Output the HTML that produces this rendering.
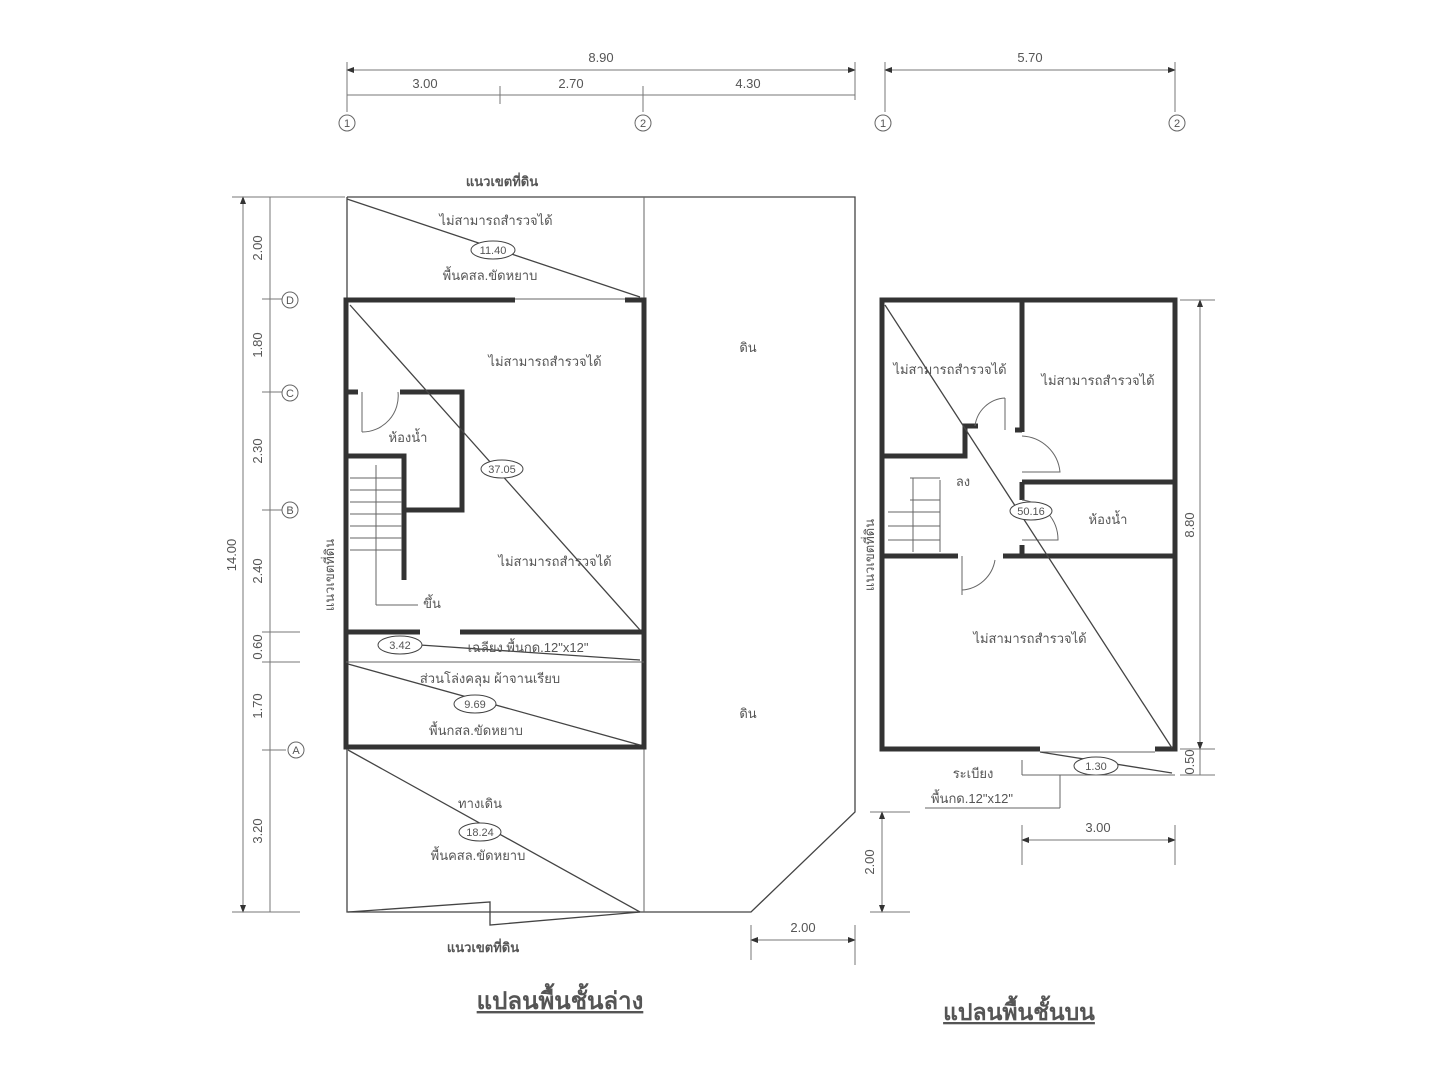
<!DOCTYPE html>
<html><head><meta charset="utf-8"><style>
html,body{margin:0;padding:0;background:#fff;width:1440px;height:1080px;overflow:hidden}
svg{display:block}
text{font-family:"Liberation Sans","Noto Sans CJK SC",sans-serif;fill:#555;font-size:13px}
.w{stroke:#333;stroke-width:5;fill:none}
.t{stroke:#666;stroke-width:1;fill:none}
.d{stroke:#444;stroke-width:1.3;fill:none}
.dim{stroke:#777;stroke-width:1;fill:none}
</style></head><body>
<svg width="1440" height="1080" viewBox="0 0 1440 1080" xmlns="http://www.w3.org/2000/svg">
<defs><marker id="a" markerWidth="8" markerHeight="6" refX="7" refY="3" orient="auto-start-reverse"><path d="M0,0 L8,3 L0,6z" fill="#333"/></marker></defs>

<line class="dim" x1="347" y1="70" x2="855" y2="70" marker-start="url(#a)" marker-end="url(#a)"/>
<text x="601" y="62" text-anchor="middle">8.90</text>
<line class="dim" x1="347" y1="95" x2="855" y2="95"/>
<g class="dim"><line x1="347" y1="62" x2="347" y2="112"/><line x1="500" y1="86" x2="500" y2="104"/><line x1="643" y1="86" x2="643" y2="112"/><line x1="855" y1="62" x2="855" y2="100"/></g>
<text x="425" y="88" text-anchor="middle">3.00</text>
<text x="571" y="88" text-anchor="middle">2.70</text>
<text x="748" y="88" text-anchor="middle">4.30</text>
<circle cx="347" cy="123" r="8" class="t"/><text x="347" y="127" text-anchor="middle" style="font-size:11px">1</text>
<circle cx="643" cy="123" r="8" class="t"/><text x="643" y="127" text-anchor="middle" style="font-size:11px">2</text>
<line class="dim" x1="885" y1="70" x2="1175" y2="70" marker-start="url(#a)" marker-end="url(#a)"/>
<line class="dim" x1="885" y1="62" x2="885" y2="112"/><line class="dim" x1="1175" y1="62" x2="1175" y2="112"/>
<text x="1030" y="62" text-anchor="middle">5.70</text>
<circle cx="883" cy="123" r="8" class="t"/><text x="883" y="127" text-anchor="middle" style="font-size:11px">1</text>
<circle cx="1177" cy="123" r="8" class="t"/><text x="1177" y="127" text-anchor="middle" style="font-size:11px">2</text>

<line class="dim" x1="243" y1="197" x2="243" y2="912" marker-start="url(#a)" marker-end="url(#a)"/>
<line class="dim" x1="270" y1="197" x2="270" y2="912"/>
<g class="dim">
<line x1="232" y1="197" x2="345" y2="197"/><line x1="262" y1="299" x2="282" y2="299"/><line x1="262" y1="392" x2="282" y2="392"/><line x1="262" y1="510" x2="282" y2="510"/><line x1="262" y1="632" x2="300" y2="632"/><line x1="262" y1="662" x2="300" y2="662"/><line x1="262" y1="750" x2="286" y2="750"/><line x1="232" y1="912" x2="300" y2="912"/>
</g>
<g>
<text transform="translate(262,248) rotate(-90)" text-anchor="middle">2.00</text>
<text transform="translate(262,345) rotate(-90)" text-anchor="middle">1.80</text>
<text transform="translate(262,451) rotate(-90)" text-anchor="middle">2.30</text>
<text transform="translate(262,571) rotate(-90)" text-anchor="middle">2.40</text>
<text transform="translate(262,647) rotate(-90)" text-anchor="middle">0.60</text>
<text transform="translate(262,706) rotate(-90)" text-anchor="middle">1.70</text>
<text transform="translate(262,831) rotate(-90)" text-anchor="middle">3.20</text>
<text transform="translate(236,555) rotate(-90)" text-anchor="middle">14.00</text>
</g>
<g>
<circle cx="290" cy="300" r="8" class="t"/><text x="290" y="304" text-anchor="middle" style="font-size:11px">D</text>
<circle cx="290" cy="393" r="8" class="t"/><text x="290" y="397" text-anchor="middle" style="font-size:11px">C</text>
<circle cx="290" cy="510" r="8" class="t"/><text x="290" y="514" text-anchor="middle" style="font-size:11px">B</text>
<circle cx="296" cy="750" r="8" class="t"/><text x="296" y="754" text-anchor="middle" style="font-size:11px">A</text>
</g>

<text x="502" y="186" text-anchor="middle" font-weight="bold" fill="#444">แนวเขตที่ดิน</text>
<polyline class="d" points="347,197 855,197 855,812 751,912 347,912 347,197"/>
<line class="t" x1="644" y1="197" x2="644" y2="912"/>
<line class="d" x1="347" y1="199" x2="640" y2="297"/>
<text x="496" y="225" text-anchor="middle">ไม่สามารถสำรวจได้</text>
<ellipse cx="493" cy="250" rx="22" ry="9" fill="#fff" stroke="#444"/><text x="493" y="254" text-anchor="middle" style="font-size:11px">11.40</text>
<text x="490" y="280" text-anchor="middle">พื้นคสล.ขัดหยาบ</text>
<text x="748" y="352" text-anchor="middle">ดิน</text>
<text x="748" y="718" text-anchor="middle">ดิน</text>

<polyline class="w" points="515,300 346,300 346,747 644,747 644,300 625,300"/>
<line class="t" x1="515" y1="299" x2="625" y2="299"/>
<line class="w" x1="346" y1="632" x2="420" y2="632"/><line class="w" x1="460" y1="632" x2="644" y2="632"/>
<line class="t" x1="346" y1="662" x2="644" y2="662"/>
<polyline class="w" points="400,392 462,392 462,510 405,510"/>
<polyline class="w" points="346,456 404,456 404,580"/>
<line class="w" x1="346" y1="392" x2="358" y2="392"/>
<path class="t" d="M362,392 L362,432 M398,392 A36,36 0 0 1 362,432"/>
<g class="t"><line x1="350" y1="478" x2="402" y2="478"/><line x1="350" y1="490" x2="402" y2="490"/><line x1="350" y1="502" x2="402" y2="502"/><line x1="350" y1="514" x2="402" y2="514"/><line x1="350" y1="526" x2="402" y2="526"/><line x1="350" y1="538" x2="402" y2="538"/><line x1="350" y1="550" x2="402" y2="550"/><line x1="376" y1="465" x2="376" y2="605"/><line x1="376" y1="605" x2="418" y2="605"/></g>
<line class="d" x1="350" y1="305" x2="640" y2="630"/>
<text x="545" y="366" text-anchor="middle">ไม่สามารถสำรวจได้</text>
<text x="408" y="442" text-anchor="middle">ห้องน้ำ</text>
<ellipse cx="502" cy="469" rx="21" ry="9" fill="#fff" stroke="#444"/><text x="502" y="473" text-anchor="middle" style="font-size:11px">37.05</text>
<text x="555" y="566" text-anchor="middle">ไม่สามารถสำรวจได้</text>
<text x="432" y="608" text-anchor="middle">ขึ้น</text>
<text transform="translate(334,575) rotate(-90)" text-anchor="middle" fill="#333">แนวเขตที่ดิน</text>

<line class="d" x1="420" y1="645" x2="640" y2="660"/>
<ellipse cx="400" cy="645" rx="22" ry="9" fill="#fff" stroke="#444"/><text x="400" y="649" text-anchor="middle" style="font-size:11px">3.42</text>
<text x="528" y="652" text-anchor="middle">เฉลียง พื้นกด.12"x12"</text>
<line class="d" x1="348" y1="664" x2="640" y2="745"/>
<text x="490" y="683" text-anchor="middle">ส่วนโล่งคลุม ผ้าจานเรียบ</text>
<ellipse cx="475" cy="704" rx="21" ry="9" fill="#fff" stroke="#444"/><text x="475" y="708" text-anchor="middle" style="font-size:11px">9.69</text>
<text x="476" y="735" text-anchor="middle">พื้นกสล.ขัดหยาบ</text>
<line class="d" x1="348" y1="750" x2="640" y2="912"/>
<text x="480" y="808" text-anchor="middle">ทางเดิน</text>
<ellipse cx="480" cy="832" rx="21" ry="9" fill="#fff" stroke="#444"/><text x="480" y="836" text-anchor="middle" style="font-size:11px">18.24</text>
<text x="478" y="860" text-anchor="middle">พื้นคสล.ขัดหยาบ</text>
<polyline class="d" points="348,912 490,902 490,925 640,912"/>
<text x="483" y="952" text-anchor="middle" font-weight="bold" fill="#444">แนวเขตที่ดิน</text>
<line class="dim" x1="751" y1="940" x2="855" y2="940" marker-start="url(#a)" marker-end="url(#a)"/>
<line class="dim" x1="751" y1="925" x2="751" y2="960"/><line class="dim" x1="855" y1="925" x2="855" y2="965"/>
<text x="803" y="932" text-anchor="middle">2.00</text>
<text x="560" y="1009" text-anchor="middle" font-weight="bold" fill="#333" text-decoration="underline" style="font-size:24px">แปลนพื้นชั้นล่าง</text>

<polyline class="w" points="1040,749 882,749 882,300 1175,300 1175,749 1155,749"/>
<line class="t" x1="1040" y1="752" x2="1155" y2="752"/>
<line class="w" x1="1022" y1="300" x2="1022" y2="432"/><line class="w" x1="1015" y1="430" x2="1022" y2="430"/>
<polyline class="w" points="882,456 965,456 965,426 978,426"/>
<line class="w" x1="1022" y1="482" x2="1175" y2="482"/>
<line class="w" x1="1022" y1="482" x2="1022" y2="500"/><line class="w" x1="1022" y1="545" x2="1022" y2="556"/>
<line class="w" x1="882" y1="556" x2="958" y2="556"/><line class="w" x1="1003" y1="556" x2="1175" y2="556"/>
<path class="t" d="M1005,398 L1005,430 M975,426 A32,32 0 0 1 1005,398 M1022,436 A40,40 0 0 1 1060,472 L1022,472 M1022,500 A40,40 0 0 1 1058,540 L1022,540 M962,590 A36,36 0 0 0 995,560 M962,556 L962,595"/>
<g class="t"><line x1="910" y1="478" x2="940" y2="478"/><line x1="910" y1="500" x2="940" y2="500"/><line x1="888" y1="512" x2="940" y2="512"/><line x1="888" y1="526" x2="940" y2="526"/><line x1="888" y1="540" x2="940" y2="540"/><line x1="940" y1="480" x2="940" y2="552"/><line x1="913" y1="478" x2="913" y2="552"/></g>
<line class="d" x1="885" y1="305" x2="1172" y2="748"/>
<text x="950" y="374" text-anchor="middle">ไม่สามารถสำรวจได้</text>
<text x="1098" y="385" text-anchor="middle">ไม่สามารถสำรวจได้</text>
<text x="963" y="486" text-anchor="middle">ลง</text>
<ellipse cx="1031" cy="511" rx="21" ry="9" fill="#fff" stroke="#444"/><text x="1031" y="515" text-anchor="middle" style="font-size:11px">50.16</text>
<text x="1108" y="524" text-anchor="middle">ห้องน้ำ</text>
<text x="1030" y="643" text-anchor="middle">ไม่สามารถสำรวจได้</text>
<text transform="translate(874,555) rotate(-90)" text-anchor="middle" fill="#333">แนวเขตที่ดิน</text>
<line class="d" x1="1040" y1="752" x2="1172" y2="773"/>
<ellipse cx="1096" cy="766" rx="22" ry="9" fill="#fff" stroke="#444"/><text x="1096" y="770" text-anchor="middle" style="font-size:11px">1.30</text>
<g class="t"><line x1="1022" y1="760" x2="1022" y2="775"/><line x1="1022" y1="775" x2="1175" y2="775"/><line x1="1060" y1="775" x2="1060" y2="808"/><line x1="925" y1="808" x2="1060" y2="808"/></g>
<text x="973" y="778" text-anchor="middle">ระเบียง</text>
<text x="972" y="803" text-anchor="middle">พื้นกด.12"x12"</text>
<line class="dim" x1="1200" y1="300" x2="1200" y2="749" marker-start="url(#a)" marker-end="url(#a)"/>
<line class="dim" x1="1200" y1="749" x2="1200" y2="775"/>
<line class="dim" x1="1180" y1="300" x2="1215" y2="300"/><line class="dim" x1="1180" y1="749" x2="1215" y2="749"/><line class="dim" x1="1180" y1="775" x2="1215" y2="775"/>
<text transform="translate(1194,525) rotate(-90)" text-anchor="middle">8.80</text>
<text transform="translate(1194,762) rotate(-90)" text-anchor="middle">0.50</text>
<line class="dim" x1="1022" y1="840" x2="1175" y2="840" marker-start="url(#a)" marker-end="url(#a)"/>
<line class="dim" x1="1022" y1="825" x2="1022" y2="865"/><line class="dim" x1="1175" y1="825" x2="1175" y2="865"/>
<text x="1098" y="832" text-anchor="middle">3.00</text>
<line class="dim" x1="882" y1="812" x2="882" y2="912" marker-start="url(#a)" marker-end="url(#a)"/>
<line class="dim" x1="870" y1="812" x2="910" y2="812"/><line class="dim" x1="870" y1="912" x2="910" y2="912"/>
<text transform="translate(874,862) rotate(-90)" text-anchor="middle">2.00</text>
<text x="1019" y="1020" text-anchor="middle" font-weight="bold" fill="#333" text-decoration="underline" style="font-size:23px">แปลนพื้นชั้นบน</text>
</svg>
</body></html>
